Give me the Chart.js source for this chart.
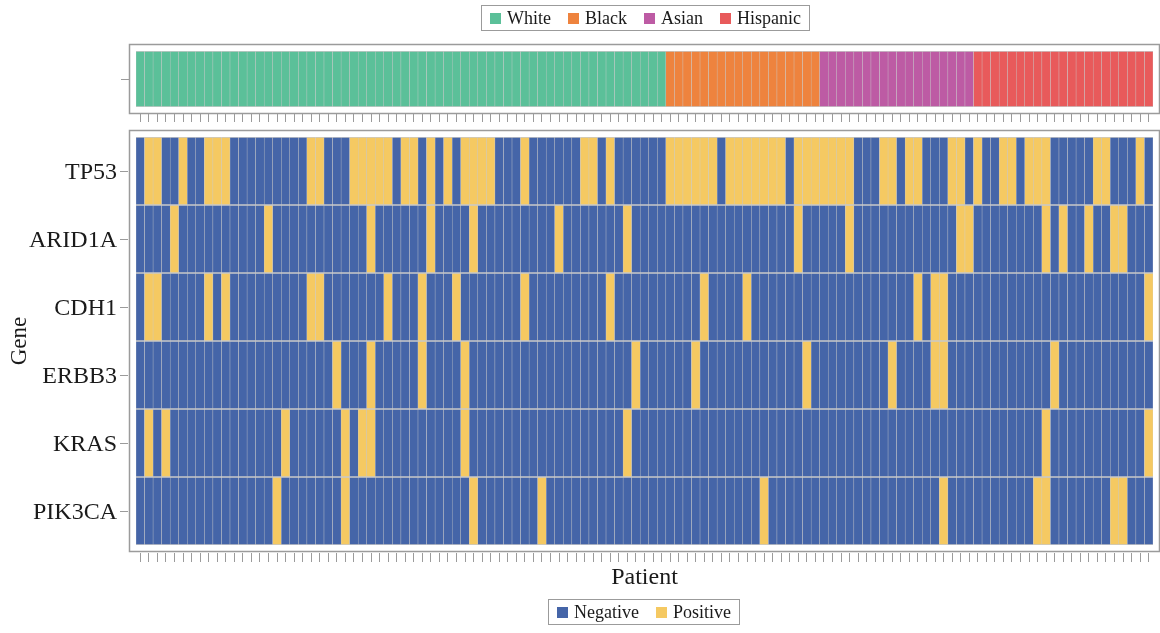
<!DOCTYPE html>
<html>
<head>
<meta charset="utf-8">
<script src="https://cdn.jsdelivr.net/npm/chart.js@4"></script>
<style>
  body { margin: 0; background: #fff; width: 1160px; height: 633px; position: relative; overflow: hidden;
         font-family: "Liberation Serif", "Times New Roman", serif; }
  canvas { position: absolute; left: 0; }
  #raceChart { top: 0; }
  #geneChart { top: 128px; }
  .legend { position: absolute; display: flex; align-items: center; height: 26px; box-sizing: border-box;
            border: 1.5px solid #9b9b9b; padding: 0 8px; font-size: 18px; color: #1a1a1a; white-space: nowrap; }
  .legend .item { display: flex; align-items: center; margin-right: 17px; }
  .legend .item:last-child { margin-right: 0; }
  .legend .sw { width: 11px; height: 11px; margin-right: 6px; }
</style>
</head>
<body>
<canvas id="raceChart" width="1160" height="128"></canvas>
<canvas id="geneChart" width="1160" height="505"></canvas>
<div id="raceLegend" class="legend" style="left:481px; top:5px;"></div>
<div id="statusLegend" class="legend" style="left:548px; top:599px;"></div>
<script>
const races = ["White", "Black", "Asian", "Hispanic"];
const raceCounts = [62, 18, 18, 21];

const genes = ["TP53", "ARID1A", "CDH1", "ERBB3", "KRAS", "PIK3CA"];
const statuses = ["Negative", "Positive"];

// patient columns (0-based) that are Positive for each gene
const tp53Positive = [1, 2, 5, 8, 9, 10, 20, 21, 25, 26, 27, 28, 29, 31, 32, 34, 36, 38, 39, 40, 41, 45,
  52, 53, 55, 62, 63, 64, 65, 66, 67, 69, 70, 71, 72, 73, 74, 75, 77, 78, 79, 80, 81, 82, 83,
  87, 88, 90, 91, 95, 96, 98, 101, 102, 104, 105, 106, 112, 113, 117];
const arid1aPositive = [4, 15, 27, 34, 39, 49, 57, 77, 83, 96, 97, 106, 108, 111, 114, 115];
const cdh1Positive = [1, 2, 8, 10, 20, 21, 29, 33, 37, 45, 55, 66, 71, 91, 93, 94, 118];
const erbb3Positive = [23, 27, 33, 38, 58, 65, 78, 88, 93, 94, 107];
const krasPositive = [1, 3, 17, 24, 26, 27, 38, 57, 106, 118];
const pik3caPositive = [16, 24, 39, 47, 73, 94, 105, 106, 114, 115];

const positives = [tp53Positive, arid1aPositive, cdh1Positive, erbb3Positive, krasPositive, pik3caPositive];

const raceColors = { White: "#5bc099", Black: "#ee833e", Asian: "#bd5ba4", Hispanic: "#e85a5b" };
const statusColors = { Negative: "#4565a8", Positive: "#f5c962" };
const CELL_BORDER = "#c8c8c8";
const TICK = "#9b9b9b";
const TEXT = "#1a1a1a";
const FONT = "'Liberation Serif', 'Times New Roman', serif";

const patientRace = [];
races.forEach((r, i) => { for (let k = 0; k < raceCounts[i]; k++) patientRace.push(r); });
const patients = patientRace.map((_, i) => "P" + (i + 1));

const framePlugin = {
  id: "frame",
  afterDraw(chart) {
    const { ctx, chartArea: a } = chart;
    ctx.save();
    ctx.strokeStyle = TICK;
    ctx.lineWidth = 1.5;
    ctx.strokeRect(a.left - 6.5, a.top - 6.5, a.width + 13, a.height + 13);
    ctx.restore();
  }
};

const cellStyle = {
  borderColor: CELL_BORDER,
  borderWidth: { top: 1, bottom: 1, left: 0.5, right: 0.5 },
  borderSkipped: false,
  barPercentage: 1,
  categoryPercentage: 1,
  grouped: false
};

const common = {
  responsive: false,
  animation: false,
  events: [],
  plugins: { legend: { display: false }, tooltip: { enabled: false } }
};

// ethnicity strip
new Chart(document.getElementById("raceChart"), {
  type: "bar",
  data: {
    labels: patients,
    datasets: [{
      label: "Race",
      data: patients.map(() => [0, 1]),
      backgroundColor: patientRace.map(r => raceColors[r]),
      ...cellStyle
    }]
  },
  options: {
    ...common,
    layout: { padding: { top: 51, right: 7, left: 0, bottom: 0 } },
    scales: {
      x: {
        type: "category",
        offset: true,
        grid: { offset: false, drawOnChartArea: false, tickLength: 15, tickBorderDash: [8, 7],
                tickBorderDashOffset: 8, tickColor: TICK, tickWidth: 1 },
        border: { display: false },
        ticks: { display: false, autoSkip: false },
        afterFit(s) { s.height = 21; }
      },
      y: {
        type: "linear", min: 0, max: 1,
        afterBuildTicks(s) { s.ticks = [{ value: 0.5 }]; },
        ticks: { callback: () => "" },
        grid: { drawOnChartArea: false, tickLength: 15, tickBorderDash: [8, 7], tickColor: TICK, tickWidth: 1 },
        border: { display: false },
        afterFit(s) { s.width = 136; s.paddingTop = 0; s.paddingBottom = 0; }
      }
    }
  },
  plugins: [framePlugin]
});

// gene status heatmap
new Chart(document.getElementById("geneChart"), {
  type: "bar",
  data: {
    labels: patients,
    datasets: genes.map((g, gi) => ({
      label: g,
      data: patients.map(() => [gi, gi + 1]),
      backgroundColor: patients.map((_, pi) =>
        statusColors[positives[gi].includes(pi) ? "Positive" : "Negative"]),
      ...cellStyle
    }))
  },
  options: {
    ...common,
    layout: { padding: { top: 9, right: 7, left: 0, bottom: 0 } },
    scales: {
      x: {
        type: "category",
        offset: true,
        grid: { offset: false, drawOnChartArea: false, tickLength: 17, tickBorderDash: [9, 8],
                tickBorderDashOffset: 9, tickColor: TICK, tickWidth: 1 },
        border: { display: false },
        ticks: { display: false, autoSkip: false },
        title: { display: true, text: "Patient", color: TEXT, font: { family: FONT, size: 24 },
                 padding: { top: 0, bottom: 41 } },
        afterFit(s) { s.height = 88; }
      },
      y: {
        type: "linear", min: 0, max: 6, reverse: true,
        afterBuildTicks(s) { s.ticks = genes.map((g, i) => ({ value: i + 0.5 })); },
        ticks: { callback: v => genes[Math.floor(v)], color: TEXT, font: { family: FONT, size: 24 },
                 padding: 3, labelOffset: 2 },
        grid: { drawOnChartArea: false, tickLength: 16, tickBorderDash: [8, 8], tickColor: TICK, tickWidth: 1 },
        border: { display: false },
        title: { display: true, text: "Gene", color: TEXT, font: { family: FONT, size: 23 },
                 padding: { top: 6, bottom: 0 } },
        afterFit(s) { s.width = 136; s.paddingTop = 0; s.paddingBottom = 0; }
      }
    }
  },
  plugins: [framePlugin]
});

function buildLegend(id, names, colors) {
  const box = document.getElementById(id);
  names.forEach(n => {
    const item = document.createElement("span");
    item.className = "item";
    const sw = document.createElement("span");
    sw.className = "sw";
    sw.style.background = colors[n];
    item.appendChild(sw);
    item.appendChild(document.createTextNode(n));
    box.appendChild(item);
  });
}
buildLegend("raceLegend", races, raceColors);
buildLegend("statusLegend", statuses, statusColors);
</script>
</body>
</html>
